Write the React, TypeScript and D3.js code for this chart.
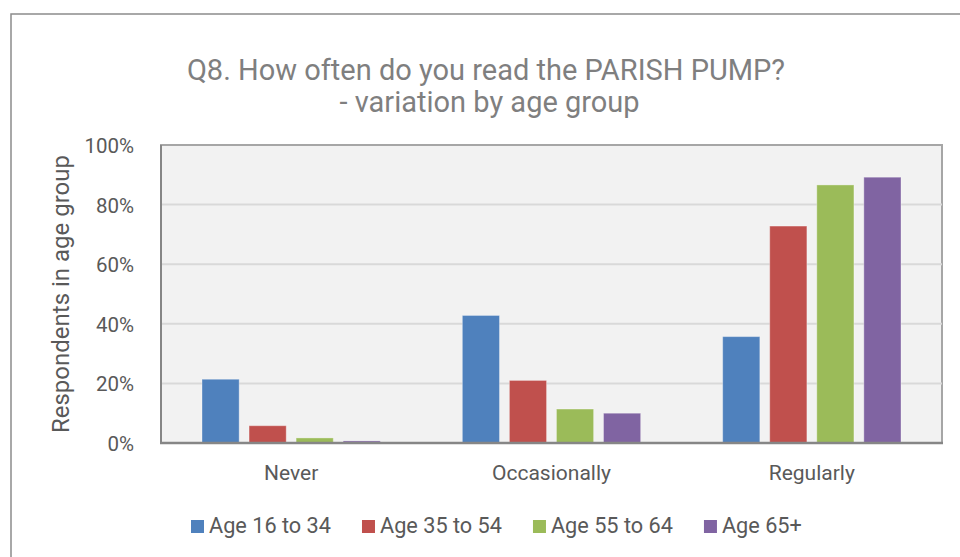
import React, { useEffect, useRef } from "react"
import * as d3 from "d3"

const categories = ["Never", "Occasionally", "Regularly"]
const seriesNames = ["Age 16 to 34", "Age 35 to 54", "Age 55 to 64", "Age 65+"]
const seriesColors = ["#4f81bd", "#c0504d", "#9bbb59", "#8064a2"]
// percent of respondents, one array per age group, in category order
const age16to34 = [21.4, 42.8, 35.7]
const age35to54 = [5.8, 21.0, 72.8]
const age55to64 = [1.7, 11.4, 86.6]
const age65plus = [0.7, 10.0, 89.2]
const seriesValues = [age16to34, age35to54, age55to64, age65plus]
const yTicks = [0, 20, 40, 60, 80, 100]
const titleLines = ["Q8. How often do you read the PARISH PUMP?", " - variation by age group"]
const yTitle = "Respondents in age group"

const FONT = "Roboto, 'Liberation Sans', sans-serif"

const App = () => {
    const svgRef = useRef(null)

    useEffect(() => {
        const svg = d3.select(svgRef.current)
        svg.selectAll("*").remove()

        const plot = { left: 161, top: 145, right: 942, bottom: 443 }

        // outer chart frame (runs off the right and bottom of the picture)
        svg.append("rect")
            .attr("x", 11)
            .attr("y", 14)
            .attr("width", 1000)
            .attr("height", 600)
            .attr("fill", "#ffffff")
            .attr("stroke", "#8c8c8c")
            .attr("stroke-width", 1.5)

        const x = d3.scaleBand().domain(categories).range([plot.left, plot.right])
        const groupPad = 41
        const xs = d3
            .scaleBand()
            .domain(seriesNames)
            .range([groupPad, x.bandwidth() - groupPad])
            .paddingInner(0.21)
        const y = d3.scaleLinear().domain([0, 100]).range([plot.bottom, plot.top])

        // plot area
        svg.append("rect")
            .attr("x", plot.left)
            .attr("y", plot.top)
            .attr("width", plot.right - plot.left)
            .attr("height", plot.bottom - plot.top)
            .attr("fill", "#f2f2f2")
            .attr("stroke", "#a6a6a6")
            .attr("stroke-width", 2)

        svg.append("g")
            .selectAll("line")
            .data(yTicks.filter((t) => t > 0 && t < 100))
            .enter()
            .append("line")
            .attr("x1", plot.left)
            .attr("x2", plot.right)
            .attr("y1", (d) => y(d))
            .attr("y2", (d) => y(d))
            .attr("stroke", "#d9d9d9")
            .attr("stroke-width", 2)

        // bars
        const rows = []
        seriesValues.forEach((vals, si) => {
            vals.forEach((v, ci) => rows.push({ s: seriesNames[si], si, c: categories[ci], v }))
        })
        svg.append("g")
            .selectAll("rect")
            .data(rows)
            .enter()
            .append("rect")
            .attr("x", (d) => x(d.c) + xs(d.s))
            .attr("y", (d) => y(d.v))
            .attr("width", xs.bandwidth())
            .attr("height", (d) => y(0) - y(d.v))
            .attr("fill", (d) => seriesColors[d.si])
            .attr("stroke", "#ffffff")
            .attr("stroke-opacity", 0.35)
            .attr("stroke-width", 1)

        // axis lines (left and bottom)
        svg.append("line")
            .attr("x1", plot.left)
            .attr("x2", plot.left)
            .attr("y1", plot.top)
            .attr("y2", plot.bottom)
            .attr("stroke", "#868686")
            .attr("stroke-width", 2)
        svg.append("line")
            .attr("x1", plot.left - 1)
            .attr("x2", plot.right + 1)
            .attr("y1", plot.bottom)
            .attr("y2", plot.bottom)
            .attr("stroke", "#868686")
            .attr("stroke-width", 2.5)

        // y tick labels
        svg.append("g")
            .selectAll("text")
            .data(yTicks)
            .enter()
            .append("text")
            .attr("x", 134)
            .attr("y", (d) => y(d) + 8)
            .attr("text-anchor", "end")
            .attr("font-family", FONT)
            .attr("font-size", 20.5)
            .attr("fill", "#595959")
            .text((d) => d + "%")

        // category labels
        svg.append("g")
            .selectAll("text")
            .data(categories)
            .enter()
            .append("text")
            .attr("x", (d) => x(d) + x.bandwidth() / 2)
            .attr("y", 480)
            .attr("text-anchor", "middle")
            .attr("font-family", FONT)
            .attr("font-size", 21)
            .attr("fill", "#595959")
            .text((d) => d)

        // y axis title
        svg.append("text")
            .attr("transform", "translate(69," + (plot.top + plot.bottom) / 2 + ") rotate(-90)")
            .attr("text-anchor", "middle")
            .attr("font-family", FONT)
            .attr("font-size", 24)
            .attr("fill", "#595959")
            .text(yTitle)

        // title
        svg.append("g")
            .selectAll("text")
            .data(titleLines)
            .enter()
            .append("text")
            .attr("x", 486)
            .attr("y", (d, i) => 80 + i * 32)
            .attr("text-anchor", "middle")
            .attr("font-family", FONT)
            .attr("font-size", 29)
            .attr("fill", "#7f7f7f")
            .attr("xml:space", "preserve")
            .text((d) => d)

        // legend
        const legend = svg.append("g")
        let lx = 191
        seriesNames.forEach((name, i) => {
            const item = legend.append("g")
            item.append("rect")
                .attr("x", lx)
                .attr("y", 520)
                .attr("width", 13)
                .attr("height", 13)
                .attr("fill", seriesColors[i])
            const t = item.append("text")
                .attr("x", lx + 18)
                .attr("y", 533)
                .attr("font-family", FONT)
                .attr("font-size", 21.7)
                .attr("fill", "#595959")
                .text(name)
            const tw = t.node().getComputedTextLength()
            lx = lx + 18 + tw + 31
        })
    }, [])

    return (
        <svg
            ref={svgRef}
            width={960}
            height={557}
            style={{ position: "absolute", left: 0, top: 0, background: "#ffffff" }}
        />
    )
}

export default App
